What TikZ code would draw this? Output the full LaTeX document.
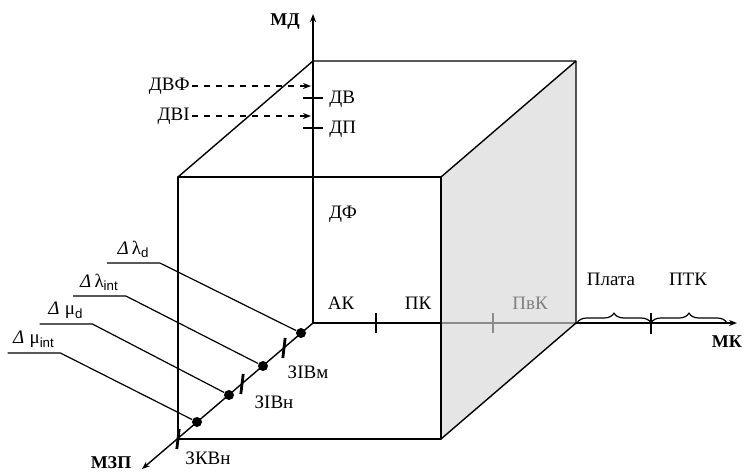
\documentclass[tikz,border=0pt]{standalone}
\usepackage{fontspec}
\setmainfont{Liberation Serif}
\newfontfamily\subsf{Liberation Sans}
\usetikzlibrary{arrows.meta,decorations.pathreplacing}

\begin{document}
\begin{tikzpicture}[x=.5pt,y=-.5pt,>={Stealth[length=4pt,width=3pt]},
    line join=round,
    every node/.style={font=\fontsize{9.5}{11}\selectfont,inner sep=1pt},
    edgeline/.style={line width=.7pt},
    tickline/.style={line width=1.4pt},
    axisname/.style={font=\fontsize{9}{11}\selectfont\bfseries},
    ptdot/.style={circle,fill,inner sep=0pt,minimum size=5pt},
    deltalbl/.style={minimum width=26pt,inner xsep=0pt,inner ysep=2.4pt,
      anchor=south},
    braceup/.style={decorate,decoration={brace,amplitude=5pt},
      line width=.6pt}]
    \useasboundingbox (0,0) rectangle (744,472);

    % Corners of the cube: back face b.., front face f..
    \coordinate (O) at (313,323);
    \coordinate (btl) at (313,61);
    \coordinate (btr) at (576,61);
    \coordinate (bbr) at (576,323);
    \coordinate (ftl) at (178,177);
    \coordinate (ftr) at (441,177);
    \coordinate (fbr) at (441,439);
    \coordinate (fbl) at (178,439);

    % The shaded right face of the cube.
    \fill[black!10] (ftr) -- (btr) -- (bbr) -- (fbr) -- cycle;

    % Axes.  The part of MK behind the shaded face is grey.
    \draw[edgeline] (O) -- (441,323);
    \draw[edgeline,black!45] (441,323) -- (bbr);
    \draw[edgeline,->] (bbr) -- (737,323) coordinate (mkend);
    \draw[edgeline,->] (O) -- (313,14) coordinate (mdend);
    \draw[edgeline,->] (O) -- (142,469) coordinate (mzpend);

    % Visible edges of the cube.
    \draw[edgeline] (ftl) rectangle (fbr);
    \draw[edgeline] (ftl) -- (btl) -- (btr) -- (bbr) -- (fbr);
    \draw[edgeline] (ftr) -- (btr);

    \node[axisname] (md) at (285,22) {МД};
    \node[axisname] (mk) at (727,342) {МК};
    \node[axisname] (mzp) at (111,463) {МЗП};

    % Ticks on MD and labels.
    \foreach \y in {98,128}
      \draw[tickline] (303,\y) -- (323,\y);
    \node[anchor=west] (dv) at (327,99) {ДВ};
    \node[anchor=west] (dp) at (327,129) {ДП};
    \node (df) at (343,214) {ДФ};

    \node[anchor=east] (dvf) at (192,86) {ДВФ};
    \node[anchor=east] (dvi) at (192,116) {ДВІ};
    \coordinate (dvfend) at (311,86);
    \coordinate (dviend) at (311,116);
    \draw[dashed,line width=.6pt,->] (dvf) -- (dvfend);
    \draw[dashed,line width=.6pt,->] (dvi) -- (dviend);

    % Ticks on MK and labels.
    \draw[tickline] (376,313) -- (376,333);
    \draw[tickline,black!45] (493,313) -- (493,333);
    \draw[tickline] (651,313) -- (651,334);
    \node (ak) at (341,303) {АК};
    \node (pk) at (418,303) {ПК};
    \node[text=black!50] (pvk) at (530,303) {ПвК};

    \draw[braceup] (577,323) -- (651,323);
    \draw[braceup] (651,323) -- (727,323);
    \node (plata) at (611,279) {Плата};
    \node (ptk) at (688,279) {ПТК};

    % Ticks on MZP and labels.
    \foreach \x/\y in {284/348,242/384,178/439}
      \draw[tickline] (\x+1.2,\y-10) -- (\x-1.2,\y+10);
    \node (zivm) at (308,372) {ЗІВм};
    \node (zivn) at (274,402) {ЗІВн};
    \node (zkvn) at (208,458) {ЗКВн};

    % Points on MZP with their leader lines.
    \node[ptdot] (pld) at (301,333) {};
    \node[ptdot] (pli) at (263,366) {};
    \node[ptdot] (pmd) at (229,395) {};
    \node[ptdot] (pmi) at (197,422) {};

    \node[deltalbl] (dld) at (133.5,263) {\textit{Δ}\,λ\textsubscript{\subsf d}};
    \node[deltalbl] (dli) at (99.5,296) {\textit{Δ}\,λ\textsubscript{\subsf int}};
    \node[deltalbl] (dmd) at (66,324) {\textit{Δ}\;μ\textsubscript{\subsf d}};
    \node[deltalbl] (dmi) at (34,353) {\textit{Δ}\;μ\textsubscript{\subsf int}};

    \foreach \l/\p in {dld/pld,dli/pli,dmd/pmd,dmi/pmi}
      \draw[line width=.6pt] (\l.south west) -- (\l.south east) -- (\p);
\end{tikzpicture}
\end{document}
